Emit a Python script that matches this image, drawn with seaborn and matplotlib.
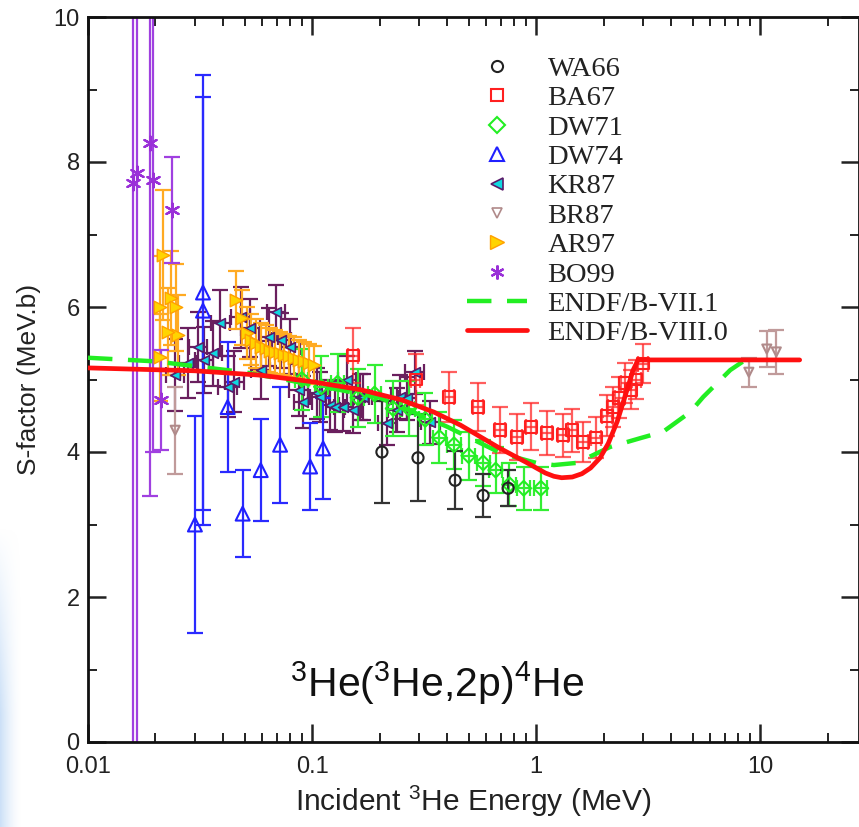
import numpy as np
import matplotlib
matplotlib.use("Agg")
import matplotlib.pyplot as plt
import seaborn as sns
from matplotlib.lines import Line2D
from matplotlib.ticker import LogLocator, MultipleLocator, NullFormatter

sns.set_style("ticks")
plt.rcParams["font.family"] = ["Liberation Sans", "DejaVu Sans"]
plt.rcParams["mathtext.fontset"] = "custom"
plt.rcParams["mathtext.rm"] = "Liberation Sans"
plt.rcParams["mathtext.it"] = "Liberation Sans:italic"
plt.rcParams["mathtext.bf"] = "Liberation Sans:bold"

# ---- measured S-factors (E in MeV, S in MeV.b, dS = 1 sigma) ----
wa66_e = [0.205, 0.297, 0.435, 0.58, 0.75]
wa66_s = [4.00, 3.92, 3.61, 3.40, 3.50]
wa66_ds = [0.70, 0.60, 0.40, 0.30, 0.25]

ba67_e = [0.152, 0.29, 0.41, 0.55, 0.69, 0.82, 0.95, 1.12, 1.32, 1.45,
          1.62, 1.85, 2.07, 2.20, 2.35, 2.50, 2.65, 2.80, 3.00]
ba67_s = [5.33, 5.00, 4.76, 4.62, 4.30, 4.21, 4.35, 4.26, 4.23, 4.30,
          4.14, 4.20, 4.50, 4.62, 4.75, 4.95, 4.86, 5.00, 5.22]
ba67_ds = [0.38, 0.35, 0.35, 0.33, 0.32, 0.32, 0.32, 0.30, 0.30, 0.30,
           0.28, 0.28, 0.28, 0.28, 0.28, 0.28, 0.27, 0.27, 0.27]

dw71_e = [0.09, 0.11, 0.13, 0.16, 0.19, 0.23, 0.27, 0.32, 0.37, 0.43,
          0.50, 0.58, 0.66, 0.76, 0.88, 1.05]
dw71_s = [5.00, 4.90, 4.95, 4.75, 4.80, 4.60, 4.60, 4.45, 4.20, 4.10,
          3.95, 3.85, 3.75, 3.55, 3.50, 3.50]
dw71_ds = [0.42, 0.42, 0.40, 0.40, 0.40, 0.38, 0.38, 0.36, 0.35, 0.34,
           0.33, 0.32, 0.32, 0.30, 0.30, 0.30]

dw74_e = [0.030, 0.0326, 0.0326, 0.042, 0.049, 0.059, 0.072, 0.098, 0.112]
dw74_s = [3.00, 6.20, 5.95, 4.62, 3.15, 3.75, 4.10, 3.80, 4.05]
dw74_ds = [1.50, 3.00, 2.95, 0.90, 0.60, 0.70, 0.80, 0.60, 0.70]

kr87_e = [0.0245, 0.028, 0.031, 0.033, 0.036, 0.039, 0.042, 0.045, 0.048,
          0.053, 0.059, 0.064, 0.069, 0.073, 0.080, 0.087, 0.091, 0.105,
          0.108, 0.120, 0.127, 0.138, 0.143, 0.152, 0.164, 0.169, 0.216,
          0.240, 0.247, 0.265, 0.287, 0.337]
kr87_s = [5.06, 5.23, 5.45, 5.27, 5.36, 5.78, 4.90, 4.97, 5.86,
          5.71, 5.13, 5.59, 5.93, 5.54, 5.45, 4.86, 4.69, 4.81,
          4.76, 4.65, 4.62, 4.62, 4.99, 4.58, 4.76, 4.76, 4.40,
          4.58, 4.76, 4.74, 5.10, 4.41]
kr87_ds = [0.50, 0.48, 0.48, 0.45, 0.45, 0.45, 0.42, 0.42, 0.42,
           0.40, 0.40, 0.40, 0.38, 0.38, 0.38, 0.36, 0.36, 0.35,
           0.35, 0.34, 0.34, 0.33, 0.33, 0.32, 0.32, 0.32, 0.30,
           0.30, 0.30, 0.30, 0.30, 0.30]

br87_e = [0.0245, 8.9, 10.7, 11.8]
br87_s = [4.30, 5.10, 5.42, 5.38]
br87_ds = [0.60, 0.20, 0.25, 0.30]

ar97_e = [0.0209, 0.0216, 0.0210, 0.0235, 0.0247, 0.0252, 0.0228,
          0.0458, 0.0485, 0.051, 0.0535, 0.056, 0.059, 0.062, 0.065,
          0.068, 0.072, 0.075, 0.079, 0.083, 0.087, 0.092, 0.097, 0.102]
ar97_s = [5.31, 6.72, 6.00, 6.12, 6.00, 5.61, 5.66,
          6.10, 5.85, 5.64, 5.55, 5.50, 5.45, 5.43, 5.40,
          5.38, 5.36, 5.34, 5.32, 5.30, 5.27, 5.25, 5.23, 5.20]
ar97_ds = [0.60, 0.90, 0.70, 0.65, 0.60, 0.55, 0.60,
           0.40, 0.38, 0.36, 0.35, 0.34, 0.33, 0.32, 0.31,
           0.30, 0.30, 0.29, 0.28, 0.28, 0.27, 0.27, 0.26, 0.26]

bo99_e = [0.0159, 0.0166, 0.0190, 0.0195, 0.0237, 0.0212]
bo99_s = [7.71, 7.85, 8.26, 7.75, 7.34, 4.72]
bo99_ds = [9.00, 9.00, 4.87, 3.75, 0.73, 0.69]

# ---- evaluated libraries ----
endf71_e = [0.01, 0.02, 0.05, 0.1, 0.2, 0.4, 0.7, 1.0, 1.2, 1.52, 2.14,
            2.91, 3.69, 4.87, 5.57, 7.35, 8.3, 8.7]
endf71_s = [5.30, 5.25, 5.10, 4.93, 4.75, 4.35, 3.98, 3.85, 3.82, 3.85, 4.07,
            4.19, 4.28, 4.55, 4.76, 5.13, 5.24, 5.27]

endf80_e = [0.01, 0.03, 0.0586, 0.1, 0.164, 0.25, 0.35, 0.46, 0.69, 0.9,
            1.1, 1.2, 1.3, 1.45, 1.6, 1.75, 1.93, 2.1, 2.3, 2.5, 2.71,
            2.85, 15.0]
endf80_s = [5.16, 5.12, 5.06, 4.97, 4.86, 4.72, 4.55, 4.37, 4.05, 3.86,
            3.71, 3.665, 3.645, 3.655, 3.70, 3.78, 3.92, 4.12, 4.42, 4.78, 5.13,
            5.27, 5.27]

xtick_vals = [0.01, 0.1, 1, 10]
xtick_labels = ["0.01", "0.1", "1", "10"]
ytick_vals = [0, 2, 4, 6, 8, 10]

fig = plt.figure(figsize=(8.59, 8.27), dpi=100)

# pale blue glow along the lower-left edge of the sheet
glow = fig.add_axes([0, 0, 22 / 859, 300 / 827], zorder=-5)
gx = np.linspace(0, 1, 40)[None, :]
gy = np.linspace(0, 1, 120)[:, None]
alpha_map = np.clip((1 - gx) ** 1.6 * np.clip((1 - gy) * 1.6, 0, 1), 0, 1)
rgba = np.zeros((120, 40, 4))
rgba[..., 0] = 0.80
rgba[..., 1] = 0.88
rgba[..., 2] = 0.97
rgba[..., 3] = alpha_map
glow.imshow(rgba, origin="lower", aspect="auto", extent=(0, 1, 0, 1))
glow.set_axis_off()

ax = fig.add_axes([88 / 859, 85 / 827, 771 / 859, 725 / 827])
ax.set_xscale("log")


def draw_set(e, s, ds, bar_color, marker, msize, face, edge, xrel=None,
             lw=1.5, alpha=1.0):
    e = np.asarray(e, float)
    s = np.asarray(s, float)
    xerr = None
    if xrel is not None:
        xerr = [e - e / (1 + xrel), e * xrel]
    ax.errorbar(e, s, yerr=ds, xerr=xerr, fmt="none", ecolor=bar_color,
                elinewidth=1.6, capsize=6, capthick=1.6, alpha=alpha, zorder=2)
    sns.scatterplot(x=e, y=s, ax=ax, marker=marker, s=msize ** 2,
                    color=edge, linewidth=lw, legend=False, zorder=4)
    coll = ax.collections[-1]
    coll.set_facecolor(face)
    coll.set_edgecolor(edge)
    coll.set_linewidth(lw)


draw_set(kr87_e, kr87_s, kr87_ds, "#6a1f5e", "<", 7, "#10d8e0", "#5a1a6a",
         xrel=0.10, lw=1.2)
draw_set(dw71_e, dw71_s, dw71_ds, "#33ee33", "D", 7.5, "none", "#22ee22",
         xrel=0.07)
draw_set(ba67_e, ba67_s, ba67_ds, "#ff2a2a", "s", 8.5, "none", "#ff2020",
         xrel=0.05, alpha=0.75)
draw_set(wa66_e, wa66_s, wa66_ds, "#333333", "o", 8, "none", "#222222")
draw_set(dw74_e, dw74_s, dw74_ds, "#2a2aff", "^", 10, "none", "#2020ff")
draw_set(br87_e, br87_s, br87_ds, "#c09a9a", "v", 6.5, "none", "#b08a8a")
draw_set(ar97_e, ar97_s, ar97_ds, "#ffaa22", ">", 9, "#ffd400", "#ffa000",
         lw=1.0)
draw_set(bo99_e, bo99_s, bo99_ds, "#a040e0", (6, 2, 0), 10, "#9a30d8",
         "#9a30d8", lw=1.6)

sns.lineplot(x=endf71_e, y=endf71_s, ax=ax, color="#22ee22", linewidth=3.2,
             estimator=None, sort=False, zorder=5)
ax.lines[-1].set_dashes((5.5, 3.5))
sns.lineplot(x=endf80_e, y=endf80_s, ax=ax, color="#ff1010", linewidth=3.4,
             estimator=None, sort=False, zorder=6)

ax.set_xlim(0.01, 27.6)
ax.set_ylim(0, 10)
ax.set_xticks(xtick_vals, labels=xtick_labels)
ax.xaxis.set_minor_locator(LogLocator(base=10, subs=np.arange(2, 10)))
ax.xaxis.set_minor_formatter(NullFormatter())
ax.set_yticks(ytick_vals, labels=[str(v) for v in ytick_vals])
ax.yaxis.set_minor_locator(MultipleLocator(1))
ax.tick_params(which="both", direction="in", top=True, right=True,
               labelsize=17, colors="#222222")
ax.tick_params(which="major", length=13, width=1.8)
ax.tick_params(which="minor", length=6.5, width=1.4)
ax.tick_params(axis="x", which="major", pad=10)
ax.tick_params(axis="y", which="major", pad=6)
for sp in ax.spines.values():
    sp.set_linewidth(2.0)
    sp.set_color("#111111")

ax.set_xlabel(r"Incident $^{3}$He Energy (MeV)", fontsize=21.5, labelpad=4,
              color="#222222")
ax.set_ylabel("S-factor (MeV.b)", fontsize=19, labelpad=9, color="#222222")

ax.text(0.262, 0.062, r"$^{3}$He($^{3}$He,2p)$^{4}$He", transform=ax.transAxes,
        fontsize=29.5, va="baseline", ha="left", color="#111111")

handles = [
    Line2D([], [], ls="none", marker="o", ms=8, mfc="none", mec="#222222", mew=1.5),
    Line2D([], [], ls="none", marker="s", ms=9, mfc="none", mec="#ff2020", mew=1.5),
    Line2D([], [], ls="none", marker="D", ms=8, mfc="none", mec="#22ee22", mew=1.5),
    Line2D([], [], ls="none", marker="^", ms=10, mfc="none", mec="#2020ff", mew=1.5),
    Line2D([], [], ls="none", marker="<", ms=8, mfc="#10d8e0", mec="#5a1a6a", mew=1.2),
    Line2D([], [], ls="none", marker="v", ms=6.5, mfc="none", mec="#b08a8a", mew=1.2),
    Line2D([], [], ls="none", marker=">", ms=10, mfc="#ffd400", mec="#ffa000", mew=1.0),
    Line2D([], [], ls="none", marker=(6, 2, 0), ms=10, mfc="#9a30d8", mec="#9a30d8", mew=1.6),
    Line2D([], [], color="#22ee22", lw=3.2, dashes=(5.5, 3.5)),
    Line2D([], [], color="#ff1010", lw=3.4),
]
labels = ["WA66", "BA67", "DW71", "DW74", "KR87", "BR87", "AR97", "BO99",
          "ENDF/B-VII.1", "ENDF/B-VIII.0"]
leg = ax.legend(handles, labels, loc="upper left", bbox_to_anchor=(0.492, 0.946),
                frameon=False, borderpad=0, borderaxespad=0, handlelength=2.1,
                handletextpad=0.72, labelspacing=0.12,
                prop={"family": "Liberation Serif", "size": 20.5})
for t in leg.get_texts():
    t.set_color("#222222")

fig.savefig("out.png", dpi=100)
